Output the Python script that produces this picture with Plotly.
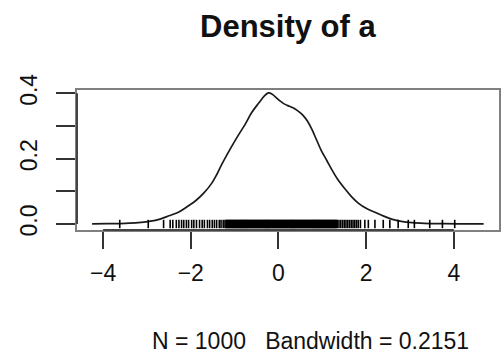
import plotly.graph_objects as go

# Kernel density estimate of `a` (N = 1000, bandwidth 0.2151)
dens_x = [-4.25, -3.9, -3.5, -3.2, -2.95, -2.7, -2.5, -2.27, -2.05, -1.89,
          -1.70, -1.52, -1.40, -1.29, -1.06, -0.90, -0.76, -0.61, -0.45, -0.32,
          -0.23, -0.15, -0.08, 0.05, 0.15, 0.25, 0.38, 0.50, 0.57, 0.66,
          0.76, 0.87, 0.98, 1.10, 1.21, 1.35, 1.52, 1.67, 1.82, 2.0,
          2.2, 2.4, 2.6, 2.8, 3.05, 3.33, 3.7, 4.1, 4.68]
dens_y = [0.0003, 0.001, 0.002, 0.004, 0.008, 0.015, 0.025, 0.037, 0.056, 0.071,
          0.095, 0.125, 0.153, 0.183, 0.239, 0.275, 0.305, 0.341, 0.370, 0.392,
          0.401, 0.398, 0.390, 0.375, 0.366, 0.360, 0.352, 0.340, 0.331, 0.315,
          0.290, 0.257, 0.224, 0.195, 0.168, 0.137, 0.107, 0.083, 0.064, 0.048,
          0.036, 0.024, 0.014, 0.008, 0.004, 0.002, 0.001, 0.0005, 0.0002]

# Observations of `a` shown as a rug along zero
rug_x = [-3.62, -2.97, -2.62, -2.47, -2.41, -2.33, -2.27, -2.21, -2.16, -2.10,
         -2.05, -1.98, -1.93, -1.87, -1.80, -1.74, -1.69, -1.62, -1.57, -1.51,
         -1.46, -1.41, -1.35, -1.31, -1.26, -1.22, -1.18, -1.15, -1.12, -1.09,
         -1.06, -1.03, -1.00, -0.97, -0.94, -0.91, -0.88, -0.85, -0.82, -0.79,
         -0.76, -0.73, -0.70, -0.67, -0.64, -0.61, -0.58, -0.55, -0.52, -0.49,
         -0.46, -0.43, -0.40, -0.37, -0.34, -0.31, -0.28, -0.25, -0.22, -0.19,
         -0.16, -0.13, -0.10, -0.07, -0.04, -0.01, 0.02, 0.05, 0.08, 0.11,
         0.14, 0.17, 0.20, 0.23, 0.26, 0.29, 0.32, 0.35, 0.38, 0.41,
         0.44, 0.47, 0.50, 0.53, 0.56, 0.59, 0.62, 0.65, 0.68, 0.71,
         0.74, 0.77, 0.80, 0.83, 0.86, 0.89, 0.92, 0.95, 0.98, 1.01,
         1.04, 1.07, 1.10, 1.13, 1.16, 1.19, 1.22, 1.25, 1.28, 1.31,
         1.34, 1.38, 1.42, 1.46, 1.50, 1.54, 1.58, 1.62, 1.66, 1.70,
         1.74, 1.78, 1.82, 1.87, 1.97, 2.05, 2.20, 2.39, 2.54, 2.73,
         2.96, 3.10, 3.45, 3.74, 4.02,
         # further observations packed into the core of the distribution
         -1.195, -1.165, -1.135, -1.105, -1.075, -1.045, -1.015, -0.985, -0.955, -0.925,
         -0.895, -0.865, -0.835, -0.805, -0.775, -0.745, -0.715, -0.685, -0.655, -0.625,
         -0.595, -0.565, -0.535, -0.505, -0.475, -0.445, -0.415, -0.385, -0.355, -0.325,
         -0.295, -0.265, -0.235, -0.205, -0.175, -0.145, -0.115, -0.085, -0.055, -0.025,
         0.005, 0.035, 0.065, 0.095, 0.125, 0.155, 0.185, 0.215, 0.245, 0.275,
         0.305, 0.335, 0.365, 0.395, 0.425, 0.455, 0.485, 0.515, 0.545, 0.575,
         0.605, 0.635, 0.665, 0.695, 0.725, 0.755, 0.785, 0.815, 0.845, 0.875,
         0.905, 0.935, 0.965, 0.995, 1.025, 1.055, 1.085, 1.115, 1.145, 1.175,
         1.205, 1.235, 1.265, 1.295, 1.325]
rug_y = [0] * len(rug_x)

x_ticks = [-4, -2, 0, 2, 4]
y_ticks = [0.0, 0.1, 0.2, 0.3, 0.4]
y_tick_text = ["0.0", "", "0.2", "", "0.4"]

title_text = "Density of a"
sub_text = "N = 1000   Bandwidth = 0.2151"

FONT = "Liberation Sans, Arial, Helvetica, sans-serif"

fig = go.Figure()
fig.add_trace(go.Scatter(
    x=dens_x, y=dens_y, mode="lines",
    line=dict(color="#1a1a1a", width=1.7, shape="spline", smoothing=1.0),
    hoverinfo="skip", showlegend=False))
fig.add_trace(go.Scatter(
    x=rug_x, y=rug_y, mode="markers",
    marker=dict(symbol="line-ns", size=6, line=dict(color="#000000", width=1.6)),
    hoverinfo="skip", showlegend=False))

# R-style axis lines spanning only the labelled tick range
fig.add_shape(type="line", xref="x", yref="paper",
              x0=x_ticks[0], x1=x_ticks[-1], y0=0, y1=0,
              line=dict(color="#444444", width=2))
fig.add_shape(type="line", xref="paper", yref="y",
              x0=0, x1=0, y0=y_ticks[0], y1=y_ticks[-1],
              line=dict(color="#444444", width=2))

fig.add_annotation(text="<b>" + title_text + "</b>", xref="paper", yref="paper",
                   x=0.5, y=1.455, xanchor="center", yanchor="middle",
                   showarrow=False, font=dict(family=FONT, size=31, color="#111111"))
fig.add_annotation(text=sub_text, xref="paper", yref="paper",
                   x=0.553, y=-0.793, xanchor="center", yanchor="middle",
                   showarrow=False, font=dict(family=FONT, size=23, color="#111111"))

fig.update_layout(
    width=503, height=356,
    margin=dict(l=77, r=2, t=90, b=126),
    paper_bgcolor="white", plot_bgcolor="white",
    font=dict(family=FONT, size=23, color="#111111"),
    xaxis=dict(range=[-4.595, 5.03], tickvals=x_ticks,
               ticks="outside", ticklen=17, tickwidth=1.6, tickcolor="#333333",
               showgrid=False, zeroline=False,
               showline=True, mirror=True, linecolor="#808080", linewidth=2,
               ticklabelstandoff=4),
    yaxis=dict(range=[-0.0184, 0.410], tickvals=y_ticks, ticktext=y_tick_text,
               tickangle=-90,
               ticks="outside", ticklen=19, tickwidth=1.6, tickcolor="#333333",
               showgrid=False, zeroline=False,
               showline=True, mirror=True, linecolor="#808080", linewidth=2,
               ticklabelstandoff=10),
)

fig.write_html("out.html")
